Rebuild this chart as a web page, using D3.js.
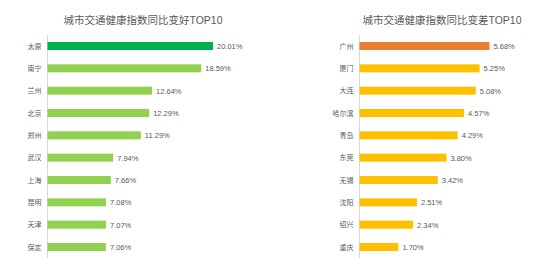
<!DOCTYPE html>
<html><head><meta charset="utf-8">
<script src="https://cdn.jsdelivr.net/npm/d3@7"></script>
<style>body{margin:0;background:#fff;}svg{display:block;font-family:"Liberation Sans","Noto Sans CJK SC",sans-serif;}</style>
</head><body><svg id="c" width="539" height="266"></svg>
<script>
const goodTitle = "城市交通健康指数同比变好TOP10";
const goodCities = ["太原","南宁","兰州","北京","郑州","武汉","上海","昆明","天津","保定"];
const goodValues = [20.01,18.59,12.64,12.29,11.29,7.94,7.66,7.08,7.07,7.06];
const badTitle = "城市交通健康指数同比变差TOP10";
const badCities = ["广州","厦门","大连","哈尔滨","青岛","东莞","无锡","沈阳","绍兴","重庆"];
const badValues = [5.68,5.25,5.08,4.57,4.29,3.80,3.42,2.51,2.34,1.70];

const svg = d3.select("#c");
function panel(title, cities, values, axisX, pxPerUnit, titleX, topColor, color){
  const g = svg.append("g");
  const y = d3.scalePoint().domain(cities).range([46, 247]);
  const x = d3.scaleLinear().domain([0, 1]).range([axisX, axisX + pxPerUnit]);
  g.append("text").attr("x", titleX).attr("y", 24).attr("text-anchor","middle")
    .attr("font-size", 10.5).attr("fill","#595959").text(title);
  g.append("line").attr("x1",axisX).attr("x2",axisX).attr("y1",35).attr("y2",258)
    .attr("stroke","#d9d9d9").attr("stroke-width",1);
  const h = 8;
  g.selectAll("rect").data(values).join("rect")
    .attr("x", x(0)).attr("y",(d,i)=>y(cities[i]) - h/2)
    .attr("width", d=>x(d)-x(0)).attr("height", h)
    .attr("fill",(d,i)=> i===0 ? topColor : color);
  g.selectAll("text.v").data(values).join("text").attr("class","v")
    .attr("x", d=>x(d)+4).attr("y",(d,i)=>y(cities[i])+3)
    .attr("font-size",7.5).attr("fill","#595959").text(d=>d.toFixed(2)+"%");
  g.selectAll("text.c").data(cities).join("text").attr("class","c")
    .attr("x", axisX-6).attr("y", d=>y(d)+2.5).attr("text-anchor","end")
    .attr("font-size",7).attr("fill","#595959").text(d=>d);
}
panel(goodTitle, goodCities, goodValues, 47.5, 8.27, 143, "#00B050", "#92D050");
panel(badTitle, badCities, badValues, 359.5, 22.88, 442, "#ED7D31", "#FFC000");
</script></body></html>
